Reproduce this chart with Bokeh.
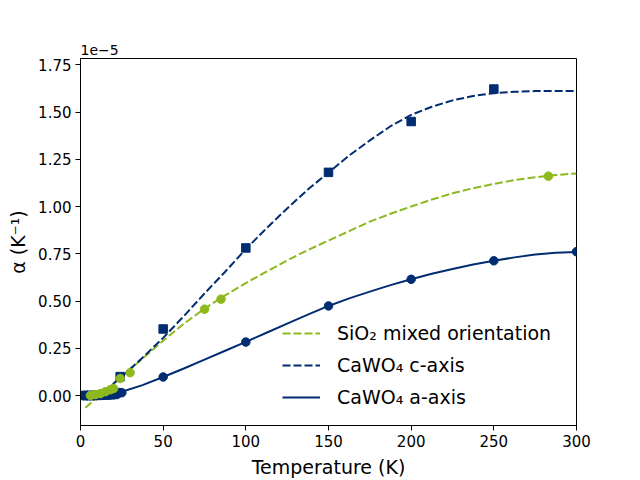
from bokeh.plotting import figure
from bokeh.models import Range1d, FixedTicker, PrintfTickFormatter, Legend, LegendItem
from bokeh.embed import file_html
from bokeh.resources import INLINE

# Thermal expansion coefficient, in units of 1e-5 K^-1
NAVY = "#002D72"
GREEN = "#8DB91E"

# CaWO4 c-axis measurements (squares)
T_c = [2, 4, 6, 8, 10, 12, 14, 16, 18, 20, 22, 24, 50, 100, 150, 200, 250]
alpha_c = [0.0, 0.0, 0.0, 0.0, 0.001, 0.002, 0.003, 0.005, 0.007, 0.010, 0.015,
           0.10, 0.352, 0.781, 1.181, 1.450, 1.622]

# CaWO4 a-axis measurements (circles)
T_a = [2, 4, 6, 8, 10, 12, 14, 16, 18, 20, 22, 25, 50, 100, 150, 200, 250, 300]
alpha_a = [0.0, 0.0, 0.0, 0.0, 0.0, 0.0, 0.001, 0.001, 0.002, 0.003, 0.005,
           0.015, 0.098, 0.283, 0.474, 0.615, 0.713, 0.761]

# SiO2 mixed orientation measurements (circles)
T_sio2 = [6, 9, 12, 15, 18, 20, 24, 30, 75, 85, 283]
alpha_sio2 = [0.0, 0.005, 0.010, 0.020, 0.030, 0.037, 0.090, 0.121, 0.457, 0.510, 1.161]

# Fitted curves
fit_T_c = [2, 10, 17.5, 25, 37.5, 50, 62.5, 75, 87.5, 100, 112.5, 125, 137.5, 150,
           162.5, 175, 187.5, 200, 212.5, 225, 237.5, 250, 262.5, 275, 287.5, 300]
fit_c = [-0.01, 0.0, 0.045, 0.10, 0.20, 0.305, 0.42, 0.54, 0.655, 0.775, 0.885, 0.99,
         1.09, 1.18, 1.27, 1.35, 1.425, 1.485, 1.528, 1.562, 1.585, 1.60, 1.607,
         1.611, 1.612, 1.612]

fit_T_a = [1, 10, 25, 37.5, 50, 62.5, 75, 87.5, 100, 112.5, 125, 137.5, 150,
           162.5, 175, 187.5, 200, 212.5, 225, 237.5, 250, 262.5, 275, 287.5, 300]
fit_a = [0.0, 0.002, 0.02, 0.055, 0.098, 0.143, 0.19, 0.237, 0.284, 0.332, 0.38,
         0.428, 0.474, 0.514, 0.55, 0.584, 0.615, 0.644, 0.67, 0.693, 0.713, 0.731,
         0.746, 0.755, 0.760]

fit_T_sio2 = [3, 10, 25, 37.5, 50, 62.5, 75, 87.5, 100, 112.5, 125, 137.5, 150,
              162.5, 175, 187.5, 200, 212.5, 225, 237.5, 250, 262.5, 275, 287.5, 300]
fit_sio2 = [-0.065, -0.01, 0.10, 0.195, 0.29, 0.38, 0.46, 0.53, 0.595, 0.655, 0.715,
            0.77, 0.82, 0.87, 0.92, 0.962, 1.0, 1.037, 1.07, 1.097, 1.12, 1.14,
            1.155, 1.167, 1.175]

x_ticks = [0, 50, 100, 150, 200, 250, 300]
y_ticks = [0.0, 0.25, 0.5, 0.75, 1.0, 1.25, 1.5, 1.75]

FONT = "DejaVu Sans"

p = figure(width=640, height=480, output_backend="svg", toolbar_location=None,
           x_range=Range1d(0, 300), y_range=Range1d(-0.1587, 1.7835),
           min_border_left=80, min_border_right=64, min_border_top=58,
           min_border_bottom=53)
p.background_fill_color = "white"
p.border_fill_color = "white"
p.xgrid.grid_line_color = None
p.ygrid.grid_line_color = None
p.outline_line_color = "black"
p.outline_line_alpha = 1
p.outline_line_width = 1

# offset text for the y axis scale
p.title.text = "1e\u22125"
p.title.text_font = FONT
p.title.text_font_size = "14px"
p.title.text_font_style = "normal"
p.title.text_color = "black"
p.title.standoff = 7

for ax in (p.xaxis[0], p.yaxis[0]):
    ax.major_label_text_font = FONT
    ax.major_label_text_font_size = "15px"
    ax.major_label_text_color = "black"
    ax.axis_label_text_font = FONT
    ax.axis_label_text_font_size = "19px"
    ax.axis_label_text_font_style = "normal"
    ax.axis_label_text_color = "black"
    ax.minor_tick_line_color = None
    ax.major_tick_in = 0
    ax.major_tick_out = 5
    ax.major_tick_line_color = "black"
    ax.axis_line_color = "black"
    ax.major_label_standoff = 4
    ax.axis_label_standoff = 6

p.xaxis.ticker = FixedTicker(ticks=x_ticks)
p.yaxis.ticker = FixedTicker(ticks=y_ticks)
p.yaxis.formatter = PrintfTickFormatter(format="%.2f")
p.xaxis.axis_label = "Temperature (K)"
p.yaxis.axis_label = "\u03b1 (K\u207b\u00b9)"

dash = "8 3"
l_sio2 = p.line(fit_T_sio2, fit_sio2, line_color=GREEN, line_width=2, line_dash=dash)
l_c = p.line(fit_T_c, fit_c, line_color=NAVY, line_width=2, line_dash=dash)
l_a = p.line(fit_T_a, fit_a, line_color=NAVY, line_width=2)

p.scatter(T_c, alpha_c, marker="square", size=8.5, fill_color=NAVY, line_color=NAVY)
p.scatter(T_a, alpha_a, marker="circle", size=8.5, fill_color=NAVY, line_color=NAVY)
p.scatter(T_sio2, alpha_sio2, marker="circle", size=8.5, fill_color=GREEN, line_color=GREEN)

legend = Legend(items=[
    LegendItem(label="SiO\u2082 mixed orientation", renderers=[l_sio2]),
    LegendItem(label="CaWO\u2084 c-axis", renderers=[l_c]),
    LegendItem(label="CaWO\u2084 a-axis", renderers=[l_a]),
], location=(202, 16))
legend.border_line_color = None
legend.background_fill_alpha = 0
legend.label_text_font = FONT
legend.label_text_font_size = "19px"
legend.label_text_color = "black"
legend.glyph_width = 38
legend.glyph_height = 24
legend.label_height = 24
legend.label_standoff = 17
legend.spacing = 8
legend.padding = 0
legend.margin = 0
p.add_layout(legend)

open("out.html", "w").write(file_html(p, INLINE))
